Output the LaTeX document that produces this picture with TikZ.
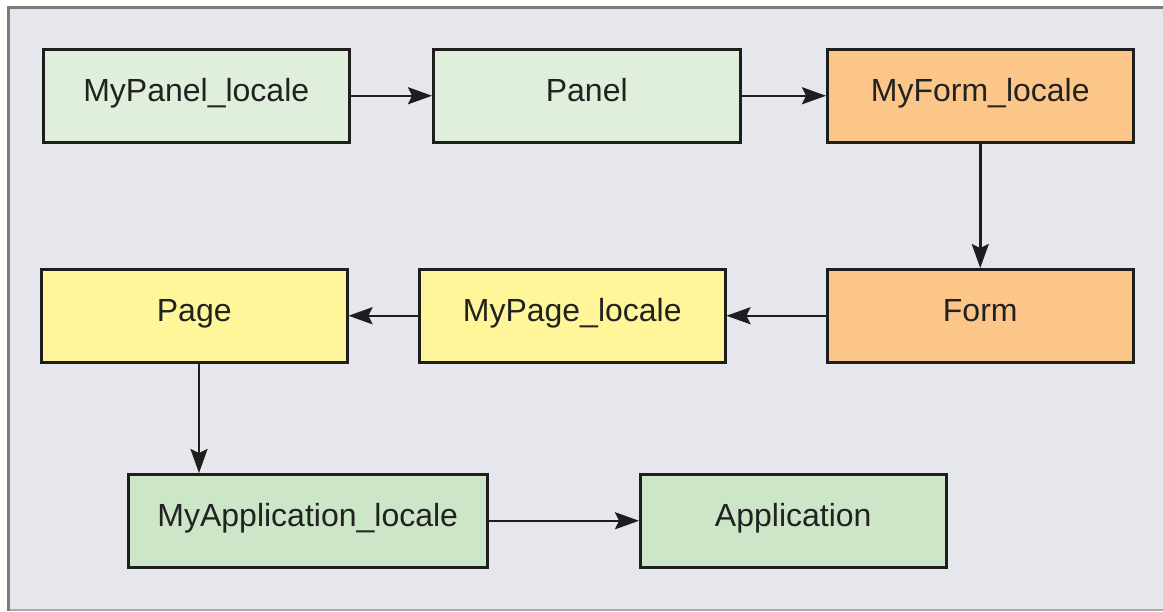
\documentclass[tikz,border=0pt]{standalone}
\usepackage{fontspec}
\setmainfont{Liberation Sans}
\usetikzlibrary{arrows.meta}
\definecolor{panelbg}{RGB}{230,231,236}
\definecolor{framegray}{RGB}{122,122,122}
\definecolor{framelight}{RGB}{170,170,170}
\definecolor{paleGreen}{RGB}{224,238,220}
\definecolor{midGreen}{RGB}{205,230,200}
\definecolor{orangeFill}{RGB}{253,198,137}
\definecolor{yellowFill}{RGB}{255,246,153}
\definecolor{edge}{RGB}{30,30,30}
\definecolor{labelInk}{RGB}{34,34,34}
\tikzset{
  box/.style={draw=edge, line width=2.5pt, minimum height=93pt, minimum width=306pt,
    inner sep=0pt, text height=24pt, text depth=13pt, text=labelInk,
    font=\fontsize{32}{38}\selectfont, anchor=north west},
  link/.style={draw=edge, line width=2.5pt,
    -{Stealth[length=24pt,width=17pt,inset=4pt]}}
}
\begin{document}
\begin{tikzpicture}[x=1pt,y=-1pt]
  \useasboundingbox (0,0) rectangle (1163,611);
  \fill[white] (0,0) rectangle (1163,611);
  % panel background and its frame
  \fill[panelbg] (8,7) rectangle (1163,610);
  \draw[framelight, line width=2pt] (8,609.5) -- (1163,609.5);
  \draw[framegray, line width=3pt] (8.5,7.5) -- (1163,7.5);
  \draw[framegray, line width=3pt] (8.5,6) -- (8.5,611);

  % first row
  \node[box, fill=paleGreen] (mypanel) at (42,48) {MyPanel\_locale};
  \node[box, fill=paleGreen, minimum width=307pt] (panel) at (432,48) {Panel};
  \node[box, fill=orangeFill] (myform) at (826,48) {MyForm\_locale};
  % second row
  \node[box, fill=yellowFill] (page) at (40,268) {Page};
  \node[box, fill=yellowFill] (mypage) at (418,268) {MyPage\_locale};
  \node[box, fill=orangeFill] (form) at (826,268) {Form};
  % third row
  \node[box, fill=midGreen, minimum width=359pt] (myapp) at (127,473) {MyApplication\_locale};
  \node[box, fill=midGreen] (app) at (639,473) {Application};

  % connectors
  \draw[link] (mypanel.east) -- (panel.west);
  \draw[link] (panel.east) -- (myform.west);
  \draw[link] (myform.south) -- (form.north);
  \draw[link] (form.west) -- (mypage.east);
  \draw[link] (mypage.west) -- (page.east);
  \draw[link] (page.south -| 199,0) -- (myapp.north -| 199,0);
  \draw[link] (myapp.east) -- (app.west);
\end{tikzpicture}
\end{document}
